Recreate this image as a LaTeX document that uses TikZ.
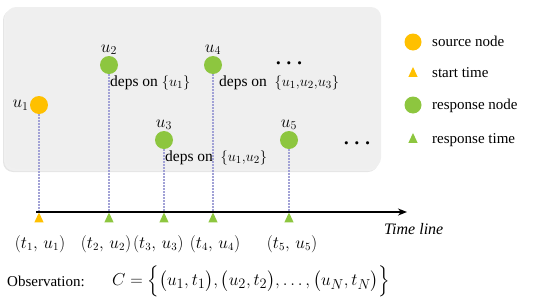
\documentclass[tikz,border=0pt]{standalone}
\usepackage{amsmath}
\usepackage{fontspec}
\setmainfont{Liberation Serif}
\usetikzlibrary{positioning,shapes.geometric,arrows.meta}
\definecolor{srcorange}{HTML}{FFC000}
\definecolor{respgreen}{HTML}{8DC63F}
\definecolor{boxgray}{HTML}{EFEFEF}
\definecolor{deplav}{HTML}{A2A2D6}

\begin{document}
\begin{tikzpicture}[x=1pt, y=-1pt,
  % event circles
  source/.style={circle, fill=srcorange, minimum size=18pt, inner sep=0pt},
  response/.style={circle, fill=respgreen, minimum size=18pt, inner sep=0pt},
  % time marks under the line
  starttick/.style={isosceles triangle, isosceles triangle apex angle=50, shape border rotate=90, fill=srcorange, minimum height=10pt, inner sep=0pt},
  resptick/.style={isosceles triangle, isosceles triangle apex angle=50, shape border rotate=90, fill=respgreen, minimum height=10pt, inner sep=0pt},
  % lines and arrows
  depline/.style={deplav, line width=1.3pt, dash pattern=on 1.6pt off 1.4pt},
  timeline/.style={line width=1.8pt, -{Stealth[length=9pt, width=7pt]}},
  % texts
  ulabel/.style={font=\fontsize{18}{20}\selectfont, inner sep=1pt},
  deps/.style={font=\fontsize{15.5}{17}\selectfont, anchor=west, inner sep=0pt},
  pair/.style={font=\fontsize{16}{18}\selectfont, inner sep=0pt},
  legend/.style={font=\fontsize{15}{17}\selectfont, anchor=west, inner sep=0pt},
  dotsnode/.style={font=\fontsize{20}{20}\selectfont\boldmath, inner sep=0pt}
]
\useasboundingbox (0,0) rectangle (536,303);

% Layer 1: gray panel with a soft shadow
\fill[black!10, rounded corners=10pt] (3,10) rectangle (378,172);
\fill[black!6, rounded corners=10pt] (4,9) rectangle (379,171);
\fill[boxgray, rounded corners=10pt] (6,7) rectangle (381,168);

% Layer 2: events
\node[source] (u1) at (39,105) {};
\node[response] (u2) at (109,65) {};
\node[response] (u3) at (164,140) {};
\node[response] (u4) at (213,65) {};
\node[response] (u5) at (289,140) {};

\node[ulabel, left=0pt of u1] (lu1) {$u_1$};
\node[ulabel, above=0pt of u2] (lu2) {$u_2$};
\node[ulabel, above=0pt of u3] (lu3) {$u_3$};
\node[ulabel, above=0pt of u4] (lu4) {$u_4$};
\node[ulabel, above=0pt of u5] (lu5) {$u_5$};

% dependencies
\node[deps] (d2) at (110,83) {deps on $\{u_1\}$};
\node[deps] (d4) at (219,83) {deps on \ $\{u_1{,}u_2{,}u_3\}$};
\node[deps] (d3) at (165,158) {deps on \ $\{u_1{,}u_2\}$};
\node[dotsnode] (more1) at (291,64) {$\cdots$};
\node[dotsnode] (more2) at (359,144) {$\cdots$};

% Layer 3: time line and time marks
\coordinate (tstart) at (36,212);
\coordinate (tend) at (407,212);
\node[starttick, anchor=apex] (t1) at (39,212) {};
\node[resptick, anchor=apex] (t2) at (109,212) {};
\node[resptick, anchor=apex] (t3) at (164,212) {};
\node[resptick, anchor=apex] (t4) at (213,212) {};
\node[resptick, anchor=apex] (t5) at (289,212) {};

\draw[depline] (u1) -- (t1.apex);
\draw[depline] (u2) -- (t2.apex);
\draw[depline] (u3) -- (t3.apex);
\draw[depline] (u4) -- (t4.apex);
\draw[depline] (u5) -- (t5.apex);
\draw[timeline] (tstart) -- (tend);

\node[font=\fontsize{16}{18}\selectfont\itshape, anchor=west, inner sep=0pt] (tl) at (384,229) {Time line};

% Layer 4: observed pairs
\node[pair] (p1) at (40,244) {$(t_1,\, u_1)$};
\node[pair] (p2) at (106,244) {$(t_2,\, u_2)$};
\node[pair, right=1.5pt of p2] (p3) {$(t_3,\, u_3)$};
\node[pair] (p4) at (215,244) {$(t_4,\, u_4)$};
\node[pair] (p5) at (292,244) {$(t_5,\, u_5)$};

\node[font=\fontsize{15}{17}\selectfont, anchor=west, inner sep=0pt] (obs) at (7,281) {Observation:};
\node[font=\fontsize{19}{21}\selectfont, anchor=west, inner sep=0pt] (cset) at (112,281)
  {$C=\Big\{\big(u_1,t_1\big),\big(u_2,t_2\big),\ldots,\big(u_N,t_N\big)\Big\}$};

% Layer 5: legend
\node[source, minimum size=17pt] (ksrc) at (413,42) {};
\node[starttick] (kstart) at (413,74) {};
\node[response, minimum size=17pt] (kresp) at (413,105) {};
\node[resptick] (kresptime) at (413,140) {};
\node[legend] at (432,41) {source node};
\node[legend] at (432,73) {start time};
\node[legend] at (432,106) {response node};
\node[legend] at (432,140) {response time};
\end{tikzpicture}
\end{document}
